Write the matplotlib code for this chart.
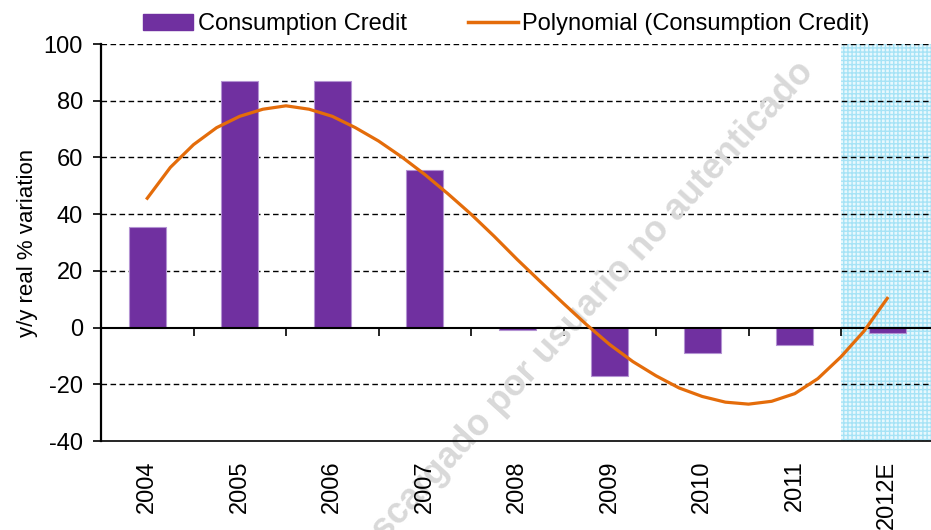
import numpy as np
import matplotlib.pyplot as plt
from matplotlib.patches import Patch
from matplotlib.lines import Line2D

plt.rcParams['font.family'] = ['Liberation Sans', 'DejaVu Sans']
plt.rcParams['axes.unicode_minus'] = False

# data
years = ['2004', '2005', '2006', '2007', '2008', '2009', '2010', '2011', '2012E']
credit = [35.5, 87, 87, 55.5, -1, -17, -9, -6, -2]

# polynomial trendline, every quarter category
trend_x = [0, 0.25, 0.5, 0.75, 1, 1.25, 1.5, 1.75, 2, 2.25, 2.5, 2.75, 3, 3.25, 3.5, 3.75,
           4, 4.25, 4.5, 4.75, 5, 5.25, 5.5, 5.75, 6, 6.25, 6.5, 6.75, 7, 7.25, 7.5, 7.75, 8]
trend_y = [45.6, 56.5, 64.5, 70.5, 74.5, 77, 78.2, 77, 74.5, 70.5, 65.8, 60.2, 54, 47.2, 40, 32.2,
           24, 16.2, 8.5, 1.0, -6, -12, -17, -21.3, -24.3, -26.3, -27, -26, -23.3, -18, -10.3, -1.2, 10.3]

purple = '#7030A0'
orange = '#E46C0A'

fig = plt.figure(figsize=(9.31, 5.30), dpi=100)
ax = fig.add_axes([101 / 931, 1 - 441 / 530, 832.5 / 931, 397 / 530])

x = np.arange(len(years))
ax.set_xlim(-0.5, len(years) - 0.5)
ax.set_ylim(-40, 100)

# estimate shading
ax.axvspan(x[-1] - 0.5, x[-1] + 0.5, facecolor='#e8f8fd', edgecolor='#a6e3f6',
           hatch='++++', linewidth=0, zorder=0)

# grid
for v in [-20, 20, 40, 60, 80, 100]:
    ax.axhline(v, color='black', linestyle=(0, (4, 2.5)), linewidth=1, zorder=1)
ax.axhline(0, color='black', linewidth=1.5, zorder=4)

# watermark
ax.text(0.62, 0.40, 'Descargado por usuario no autenticado', transform=fig.transFigure,
        rotation=47.5, fontsize=26, fontweight='bold', color='#d9d9d9',
        ha='center', va='center', zorder=1.5)

ax.bar(x, credit, width=0.4, color=purple, edgecolor='#b493d3', linewidth=0.8, zorder=3)
ax.plot(trend_x, trend_y, color=orange, linewidth=2.3, zorder=5)

# axes styling
for s in ['top', 'right']:
    ax.spines[s].set_visible(False)
ax.spines['left'].set_linewidth(1.6)
ax.spines['bottom'].set_linewidth(1.2)

ax.set_yticks(range(-40, 101, 20))
ax.tick_params(axis='y', direction='out', length=6, width=1.2, labelsize=17, pad=7)
ax.set_xticks(x)
ax.set_xticklabels(years, rotation=90, fontsize=17)
ax.tick_params(axis='x', length=0, pad=14)

# category separators on the zero line
sec = ax.secondary_xaxis(40 / 140)
sec.set_xticks(x[:-1] + 0.5)
sec.set_xticklabels([])
sec.tick_params(direction='out', length=6, width=1.2)
sec.spines['bottom'].set_visible(False)

ax.set_ylabel('y/y real % variation', fontsize=16, labelpad=4)

handles = [Patch(facecolor=purple, edgecolor=purple),
           Line2D([0], [0], color=orange, linewidth=2.5)]
fig.legend(handles, ['Consumption Credit', 'Polynomial (Consumption Credit)'],
           loc='upper left', bbox_to_anchor=(122 / 931, 1.015), ncol=2, frameon=False,
           fontsize=17, handlelength=2.1, handletextpad=0.2, columnspacing=2.6)

fig.savefig('out.png', dpi=100)
